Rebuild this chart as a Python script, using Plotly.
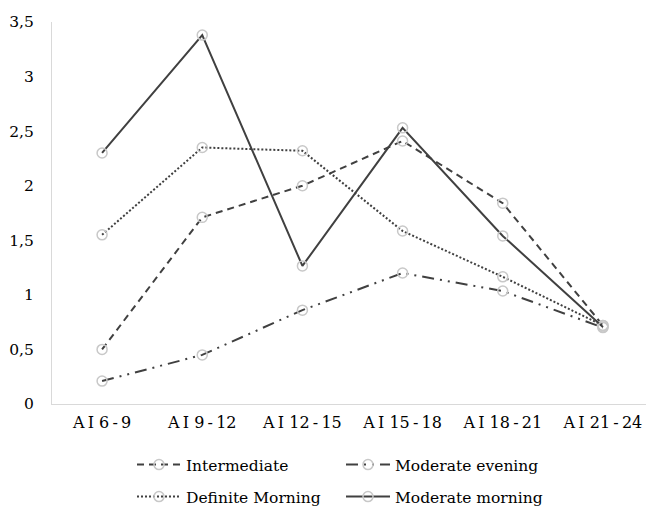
import plotly.graph_objects as go

categories = ["AI 6-9", "AI 9-12", "AI 12-15", "AI 15-18", "AI 18-21", "AI 21-24"]
# tick labels with thin spaces for the loose letter spacing
tick_labels = [c.replace("AI", "A\u2009I").replace("-", "\u2009-\u2009") for c in categories]

intermediate = [0.50, 1.71, 2.00, 2.41, 1.84, 0.72]
moderate_evening = [0.21, 0.45, 0.86, 1.20, 1.035, 0.70]
definite_morning = [1.55, 2.35, 2.32, 1.585, 1.165, 0.72]
moderate_morning = [2.30, 3.38, 1.265, 2.53, 1.54, 0.706]

y_ticks = [0, 0.5, 1, 1.5, 2, 2.5, 3, 3.5]
y_tick_text = ["0", "0,5", "1", "1,5", "2", "2,5", "3", "3,5"]

serif = "DejaVu Serif"
line_color = "#404040"
marker_style = dict(symbol="circle-open", size=10, color="#c8c8c8", line=dict(width=1.5, color="#c8c8c8"))

# (name, values, dash, legend id, legend left px, legend row centre px)
series = [
    ("Intermediate", intermediate, "7px,5px", "legend", 132, 465),
    ("Moderate evening", moderate_evening, "12px,6px,2px,6px,2px,6px", "legend2", 341, 465),
    ("Definite Morning", definite_morning, "2px,2px", "legend3", 132, 497),
    ("Moderate morning", moderate_morning, "solid", "legend4", 341, 497),
]

W, H = 646, 508

fig = go.Figure()
legends = {}
for name, values, dash, leg, lx, ly in series:
    fig.add_trace(go.Scatter(
        x=categories, y=values, name=name, mode="lines+markers",
        line=dict(color=line_color, width=2, dash=dash),
        marker=marker_style, legend=leg,
    ))
    legends[leg] = dict(
        orientation="h", xref="container", yref="container",
        x=lx / W, y=1 - ly / H, xanchor="left", yanchor="middle",
        itemwidth=44, bgcolor="rgba(0,0,0,0)",
        font=dict(family=serif, size=15.5, color="#000000"),
    )

fig.update_layout(
    width=W, height=H,
    margin=dict(l=52, r=0, t=22, b=104),
    plot_bgcolor="white", paper_bgcolor="white",
    font=dict(family=serif, size=16, color="#000000"),
    showlegend=True,
    xaxis=dict(
        type="category", range=[-0.5, 5.43],
        tickvals=categories, ticktext=tick_labels,
        showgrid=False, showline=True, linecolor="#d9d9d9", linewidth=1,
        ticks="", tickfont=dict(family=serif, size=16), ticklabelstandoff=4,
    ),
    yaxis=dict(
        range=[0, 3.5], tickvals=y_ticks, ticktext=y_tick_text,
        showgrid=False, showline=True, linecolor="#d9d9d9", linewidth=1,
        ticks="", ticklabelstandoff=14, zeroline=False,
        tickfont=dict(family=serif, size=15.5),
    ),
    **legends,
)

fig.write_html("out.html")
